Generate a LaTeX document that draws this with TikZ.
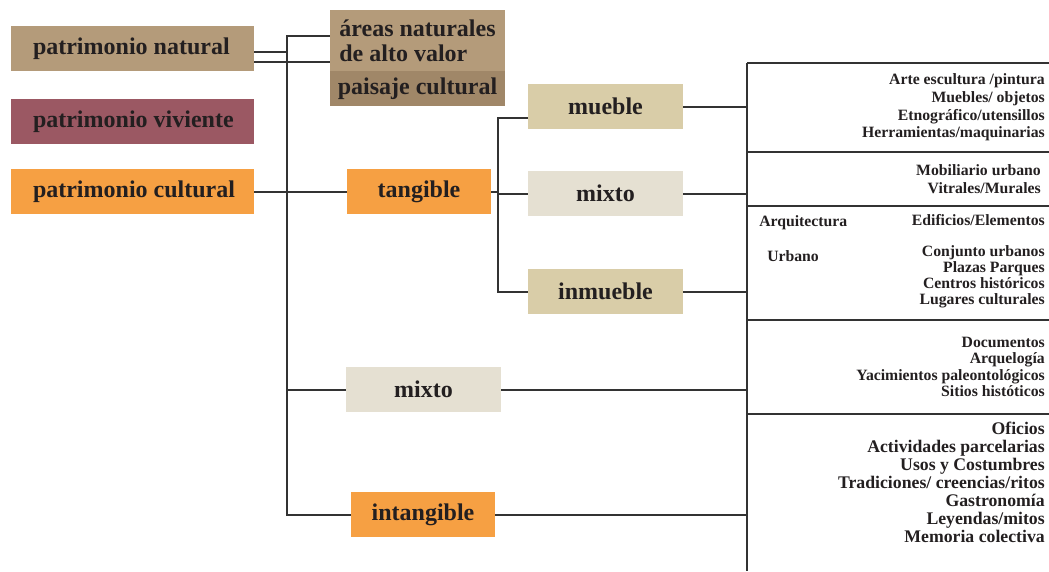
\documentclass[tikz,border=0pt]{standalone}
\usepackage{fontspec}
\setmainfont{Liberation Serif}
\usetikzlibrary{calc}
\definecolor{natural}{HTML}{B49B7A}
\definecolor{paisaje}{HTML}{A08768}
\definecolor{viviente}{HTML}{9B5863}
\definecolor{naranja}{HTML}{F6A043}
\definecolor{mueble}{HTML}{D9CDA8}
\definecolor{mixto}{HTML}{E5E0D2}
\definecolor{tinta}{HTML}{231F20}
\definecolor{linea}{HTML}{333333}
\newcommand{\izq}[1]{\makebox[149.25pt][l]{#1}}

\begin{document}
\begin{tikzpicture}[x=.75pt, y=-.75pt,
 caja/.style={inner sep=0, text=tinta, font=\bfseries\fontsize{18}{19}\selectfont},
 ancha/.style={caja, minimum width=182.25pt, minimum height=33.75pt},
 media/.style={caja, minimum width=116.25pt, minimum height=33.75pt},
 corta/.style={caja, minimum width=108pt, minimum height=33.75pt},
 lista/.style={inner sep=0, anchor=north east, align=right, text=tinta, font=\bfseries\fontsize{11.8}{13.3}\selectfont},
 raya/.style={draw=linea, line width=1.5pt}]
\useasboundingbox (0,0) rectangle (1049,571);
\node[ancha, fill=natural] (nat) at (132.5,48.5) {\izq{patrimonio natural}};
\node[ancha, fill=viviente] (viv) at (132.5,121.5) {\izq{patrimonio viviente}};
\node[ancha, fill=naranja] (cul) at (132.5,191.5) {\izq{patrimonio cultural}};
\node[caja, fill=natural, minimum width=131.25pt, minimum height=45.75pt, align=left] (areas) at (417.5,40.5) {áreas naturales\\de alto valor};
\node[caja, fill=paisaje, minimum width=131.25pt, minimum height=26.25pt] (pais) at (417.5,88.5) {paisaje cultural};
\node[corta, fill=naranja] (tang) at (419,191.5) {tangible};
\node[media, fill=mueble] (mueb) at (605.5,106.5) {mueble};
\node[media, fill=mixto] (mix1) at (605.5,193.5) {mixto};
\node[media, fill=mueble] (inmu) at (605.5,291.5) {inmueble};
\node[media, fill=mixto] (mix2) at (423.5,389.5) {mixto};
\node[corta, fill=naranja] (intang) at (423,514.5) {intangible};
\coordinate (top) at (287,36);
\coordinate (top2) at (498,118);
\coordinate (rtop) at (747,63);
\coordinate (rbot) at (747,571);
\draw[raya] (areas.west |- top) -- (top) |- (intang);
\draw[raya] ($(nat.east)+(0,3.5)$) -- ($(top)+(0,16)$);
\draw[raya] ($(nat.east)+(0,13.5)$) -- ($(areas.west)+(0,21.5)$);
\draw[raya] (cul) -- (tang);
\draw[raya] (top |- mix2) -- (mix2);
\draw[raya] (mueb.west |- top2) -- (top2) |- (inmu);
\draw[raya] (tang) -- (top2 |- tang);
\draw[raya] (top2 |- mix1) -- (mix1);
\draw[raya] (rtop) -- (rbot);
\foreach \y in {63,152,206,320,414} {
 \draw[raya] (747,\y) --++(302,0);
}
\foreach \n in {mueb, mix1, inmu, mix2, intang} {
 \draw[raya] (\n) -- (\n -| rtop);
}
\node[lista] (l1) at (1045,73.5) {Arte escultura /pintura\\Muebles/ objetos\\Etnográfico/utensillos\\Herramientas/maquinarias};
\node[lista] (l2) at (1041,164.5) {Mobiliario urbano\\Vitrales/Murales};
\node[lista] (l3) at (1045,214) {Edificios/Elementos};
\node[lista, font=\bfseries\fontsize{11.8}{12.2}\selectfont] (l4) at (1045,245) {Conjunto urbanos\\Plazas Parques\\Centros históricos\\Lugares culturales};
\node[lista, anchor=north west] (arq) at (759,215) {Arquitectura};
\node[lista, anchor=north west] (urb) at (767,250) {Urbano};
\node[lista, font=\bfseries\fontsize{11.8}{12.2}\selectfont] (l5) at (1045,337) {Documentos\\Arquelogía\\Yacimientos paleontológicos\\Sitios históticos};
\node[lista, font=\bfseries\fontsize{13.3}{13.5}\selectfont] (l6) at (1045,422) {Oficios\\Actividades parcelarias\\Usos y Costumbres\\Tradiciones/ creencias/ritos\\Gastronomía\\Leyendas/mitos\\Memoria colectiva};
\end{tikzpicture}
\end{document}
